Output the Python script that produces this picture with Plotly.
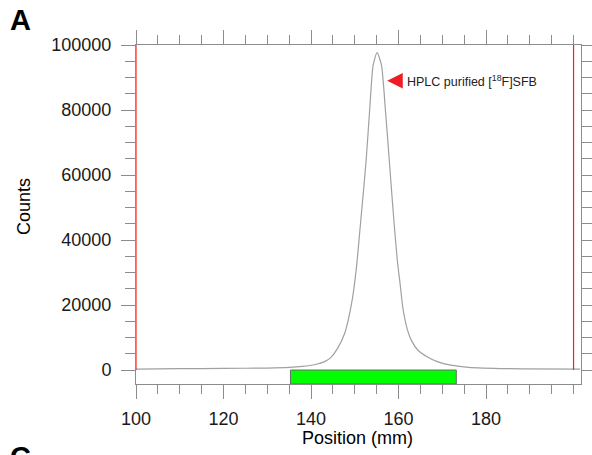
import plotly.graph_objects as go

# ---- data ----
position_mm = [100, 110, 120, 130, 135, 138, 141, 143, 144.5, 146, 147.7, 149.4, 150.4, 151.1,
               151.8, 152.6, 153.4, 154.2, 155.1, 156.1, 157.0, 157.8, 158.7, 159.7,
               160.4, 161.0, 162.0, 162.9, 164.5, 166.5, 169, 172, 176, 185, 201.5]
counts = [300, 400, 500, 600, 800, 1100, 1700, 2500, 3800, 6500, 11300, 21500, 31800, 42000,
          52300, 64600, 80000, 93800, 97700, 93800, 80000, 66000, 50000, 34000,
          26000, 19000, 12500, 9200, 6000, 4100, 2500, 1500, 800, 400, 300]

roi_start, roi_end = 135.3, 173.2          # green integration region (mm)
origin_front = [100, 200]                   # red origin / front markers (mm)
peak_arrow_at = (157.4, 89000)
peak_label = "HPLC purified [<sup>18</sup>F]SFB"

x_tickvals = [100, 120, 140, 160, 180]
y_tickvals = [0, 20000, 40000, 60000, 80000, 100000]
x_range = [100, 201.7]
y_range = [-4300, 100000]

AX = "#8c8c8c"
FONT = "Liberation Sans, Arial, sans-serif"
W, H = 592, 455
ML, MR, MT, MB = 136, 11, 45, 71
PW, PH = W - ML - MR, H - MT - MB


def px_to_paper(px, py):
    return (px - ML) / PW, 1 - (py - MT) / PH


fig = go.Figure()
fig.add_trace(go.Scatter(
    x=position_mm, y=counts, mode="lines",
    line=dict(color="#a0a0a0", width=1.2, shape="spline", smoothing=0.6),
    hoverinfo="skip", showlegend=False))

# integration bar
fig.add_shape(type="rect", xref="x", yref="y", x0=roi_start, x1=roi_end,
              y0=y_range[0], y1=0, fillcolor="#00ff00",
              line=dict(color="#6a6a6a", width=1), layer="above")
# red vertical markers
for xv in origin_front:
    fig.add_shape(type="line", xref="x", yref="y", x0=xv, x1=xv, y0=0, y1=y_range[1],
                  line=dict(color="#ff2020", width=1.2), layer="above")

# peak label arrow + text
fig.add_annotation(x=peak_arrow_at[0], y=peak_arrow_at[1], xref="x", yref="y",
                   text=" ", showarrow=True, ax=16, ay=0,
                   arrowhead=2, arrowsize=1.2, arrowwidth=2.6, arrowcolor="#ee1c25")
fig.add_annotation(x=161.4, y=peak_arrow_at[1], xref="x", yref="y",
                   text=peak_label, showarrow=False, xanchor="left", yanchor="middle",
                   font=dict(family=FONT, size=12.5, color="#222222"))

# panel letters and titles (positions given in page pixels)
def page_text(text, px, py, size, xanchor="left", yanchor="top", angle=0):
    xp, yp = px_to_paper(px, py)
    fig.add_annotation(x=xp, y=yp, xref="paper", yref="paper", text=text,
                       showarrow=False, xanchor=xanchor, yanchor=yanchor, textangle=angle,
                       font=dict(family=FONT, size=size, color="#000000"))

page_text("<b>A</b>", 8, 2, 29)
page_text("<b>C</b>", 8, 439, 29)
page_text("Counts", 24, 207, 18, xanchor="center", yanchor="middle", angle=-90)
page_text("Position (mm)", 357, 438, 18, xanchor="center", yanchor="middle")

tick_common = dict(ticks="outside", ticklen=14, tickwidth=1, tickcolor=AX,
                   showline=True, linecolor=AX, linewidth=1, mirror="allticks",
                   showgrid=False, zeroline=False, automargin=False,
                   tickfont=dict(family=FONT, size=18, color="#1a1a1a"))

fig.update_xaxes(range=x_range, tickvals=x_tickvals, **tick_common,
                 ticklabelstandoff=4,
                 minor=dict(dtick=5, tick0=100, ticklen=9, ticks="outside",
                            tickcolor=AX, showgrid=False))
fig.update_yaxes(range=y_range, tickvals=y_tickvals, tickformat="d", **tick_common,
                 ticklabelstandoff=6,
                 minor=dict(dtick=5000, tick0=0, ticklen=10, ticks="outside",
                            tickcolor=AX, showgrid=False))

fig.update_layout(width=W, height=H,
                  margin=dict(l=ML, r=MR, t=MT, b=MB, autoexpand=False),
                  paper_bgcolor="white", plot_bgcolor="white",
                  font=dict(family=FONT))

fig.write_html("out.html")
